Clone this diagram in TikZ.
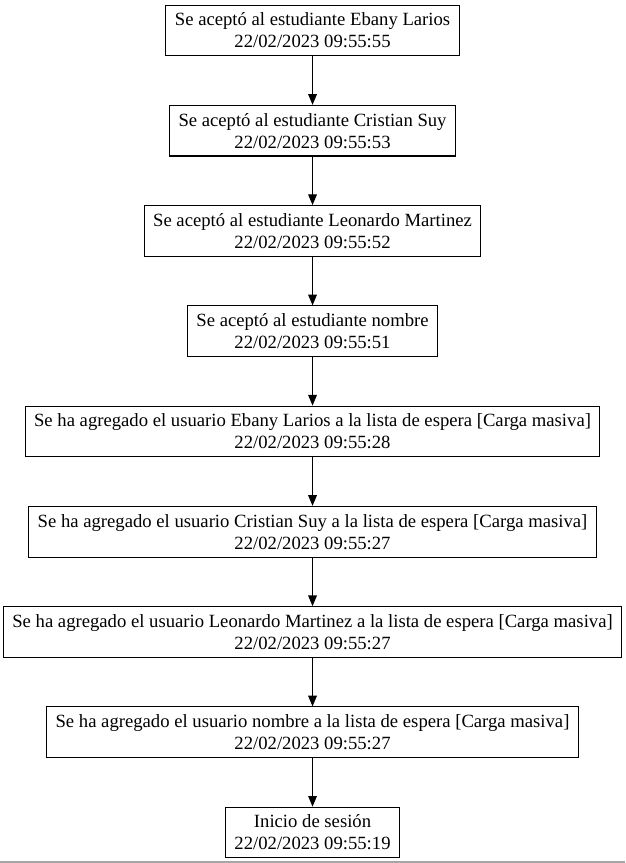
\documentclass[tikz,border=0pt]{standalone}
\usepackage{fontspec}
\setmainfont{Liberation Serif}
\usetikzlibrary{arrows.meta,positioning}

\begin{document}
\begin{tikzpicture}[>={Triangle[length=8pt,width=6.5pt]},evento/.style={draw,line width=0.8pt,minimum height=38pt,inner xsep=6.75pt,align=center,font=\fontsize{14}{16.5}\selectfont},node distance=36.4pt]
  \useasboundingbox (0,0) rectangle (468.75pt,-647.25pt);
  \node[evento] (e1) at (234.4pt,-22.8pt) {Se aceptó al estudiante Ebany Larios\\22/02/2023 09:55:55};
  \node[evento,below=of e1] (e2) {Se aceptó al estudiante Cristian Suy\\22/02/2023 09:55:53};
  \node[evento,below=of e2] (e3) {Se aceptó al estudiante Leonardo Martinez\\22/02/2023 09:55:52};
  \node[evento,below=of e3] (e4) {Se aceptó al estudiante nombre\\22/02/2023 09:55:51};
  \node[evento,below=of e4] (e5) {Se ha agregado el usuario Ebany Larios a la lista de espera [Carga masiva]\\22/02/2023 09:55:28};
  \node[evento,below=of e5] (e6) {Se ha agregado el usuario Cristian Suy a la lista de espera [Carga masiva]\\22/02/2023 09:55:27};
  \node[evento,below=of e6] (e7) {Se ha agregado el usuario Leonardo Martinez a la lista de espera [Carga masiva]\\22/02/2023 09:55:27};
  \node[evento,below=of e7] (e8) {Se ha agregado el usuario nombre a la lista de espera [Carga masiva]\\22/02/2023 09:55:27};
  \node[evento,below=of e8] (e9) {Inicio de sesión\\22/02/2023 09:55:19};
  \foreach \a/\b in {e1/e2,e2/e3,e3/e4,e4/e5,e5/e6,e6/e7,e7/e8,e8/e9}
    \draw[->,line width=0.8pt] (\a) -- (\b);
  % bottom edge
  \draw[gray!70,line width=1.5pt] (0,-646.5pt) -- (468.75pt,-646.5pt);
\end{tikzpicture}
\end{document}
